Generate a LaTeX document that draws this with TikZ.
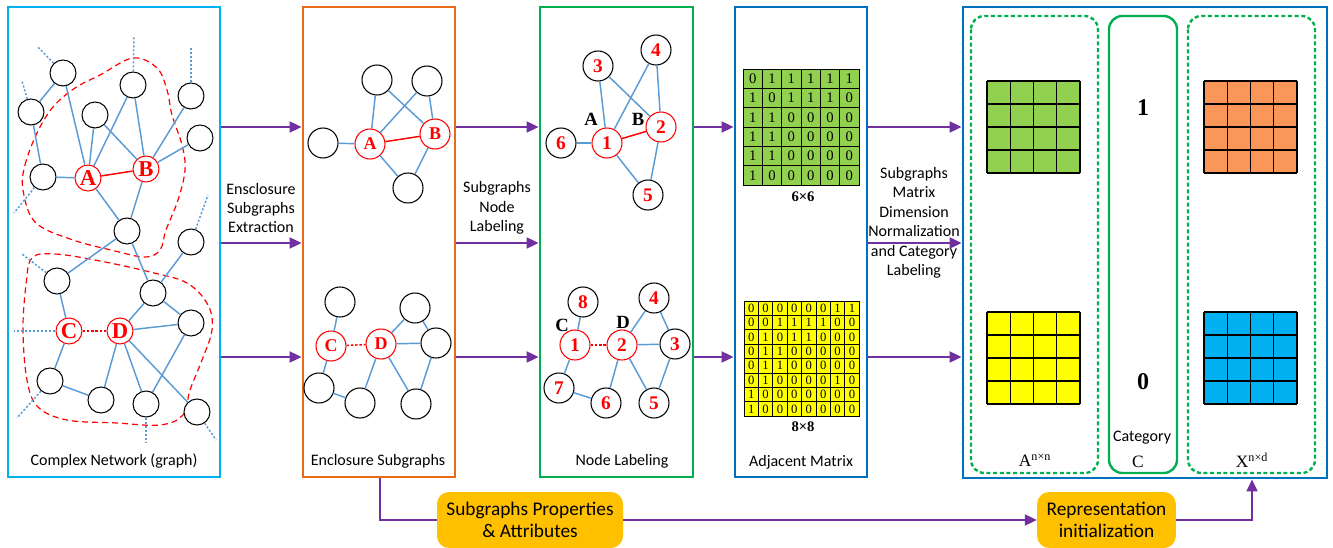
\documentclass[tikz,border=0pt]{standalone}
\usepackage{fontspec}
\setmainfont{Liberation Serif}
\setsansfont{Carlito}
\usetikzlibrary{arrows.meta,fit}

\definecolor{netcyan}{RGB}{0,176,240}
\definecolor{suborange}{RGB}{232,106,20}
\definecolor{labgreen}{RGB}{0,176,80}
\definecolor{matblue}{RGB}{0,112,192}
\definecolor{linkblue}{RGB}{91,155,213}
\definecolor{flowpurple}{RGB}{112,48,160}
\definecolor{cellgreen}{RGB}{146,208,80}
\definecolor{cellyellow}{RGB}{255,255,0}
\definecolor{cellorange}{RGB}{250,150,88}
\definecolor{cellblue}{RGB}{0,176,240}
\definecolor{boxgold}{RGB}{255,192,0}

\tikzstyle{panel} = [draw, line width=2pt, inner sep=0pt]
\tikzstyle{vertex} = [circle,
                      draw=black,
                      line width=0.8pt,
                      fill=white,
                      inner sep=0pt,
                      text=red]
\tikzstyle{small} = [vertex, minimum size=19.5pt,
                     font=\bfseries\fontsize{17}{17}\selectfont]
\tikzstyle{big} = [vertex, minimum size=22.5pt,
                   font=\bfseries\fontsize{14.5}{14.5}\selectfont]
\tikzstyle{seed} = [draw=red]
\tikzstyle{link} = [draw=linkblue, line width=1.1pt]
\tikzstyle{target} = [draw=red, line width=1.1pt]
\tikzstyle{missing} = [target, dash pattern=on 2pt off 1.2pt]
\tikzstyle{stub} = [draw=linkblue, line width=1.1pt, dash pattern=on 1.6pt off 1.4pt]
\tikzstyle{hull} = [draw=red, line width=0.9pt, dash pattern=on 4.5pt off 3pt]
\tikzstyle{flow} = [draw=flowpurple, line width=2pt,
                    -{Triangle[length=9pt,width=8pt]}]
\tikzstyle{caption} = [font=\sffamily\fontsize{12}{14.6}\selectfont, align=center]
\tikzstyle{cell} = [draw=black, line width=0.7pt, inner sep=0pt]
\tikzstyle{sheet} = [draw=labgreen, line width=1.8pt, rounded corners=10pt]
\tikzstyle{note} = [fill=boxgold, rounded corners=9pt, align=center,
                    minimum height=42pt,
                    font=\sffamily\fontsize{14.5}{17}\selectfont]

\begin{document}
\begin{tikzpicture}[x=0.75pt, y=-0.75pt]
  \useasboundingbox (0,0) rectangle (1333,548);

  % stages
  \node[panel, draw=netcyan, fit={(8,7) (220,477)}] (net) {};
  \node[panel, draw=suborange, fit={(303,7) (455,477)}] (sub) {};
  \node[panel, draw=labgreen, fit={(540,7) (693,477)}] (lab) {};
  \node[panel, draw=matblue, fit={(735,7) (867,477)}] (adj) {};
  \node[panel, draw=matblue, fit={(963,7) (1327,478)}] (group) {};

  \node[caption] (netcap) at (114,461) {Complex Network (graph)};
  \node[caption] (subcap) at (378,461) {Enclosure Subgraphs};
  \node[caption] (labcap) at (622,461) {Node Labeling};
  \node[caption] (adjcap) at (801,462) {Adjacent Matrix};

  % ---- complex network ----
  \draw[hull] plot[smooth cycle, tension=0.6] coordinates {
    (23,190) (25,165) (37,133) (53,107) (75,88) (100,75) (133,58) (157,68)
    (167,90) (172,115) (182,145) (185,170) (178,200) (166,230) (160,250)
    (145,257) (115,251) (70,239) (35,222)};
  \draw[hull] plot[smooth cycle, tension=0.6] coordinates {
    (32,258) (55,254) (100,261) (150,272) (187,283) (208,305) (212,330)
    (202,360) (190,390) (183,415) (160,425) (117,423) (67,420) (38,407)
    (27,380) (23,330) (26,285)};

  \node[small] (g1) at (63,73) {};
  \node[small] (g2) at (31,112) {};
  \node[small] (g3) at (133,85) {};
  \node[small] (g4) at (191,96) {};
  \node[small] (g5) at (95,115) {};
  \node[small] (g6) at (200,138) {};
  \node[small] (g7) at (43,177) {};
  \node[small, seed] (gA) at (88,178) {A};
  \node[small, seed] (gB) at (146,169) {B};
  \node[small] (g8) at (127,231) {};
  \node[small] (g9) at (191,242) {};
  \node[small] (g10) at (57,281) {};
  \node[small] (g11) at (153,293) {};
  \node[small, seed] (gC) at (69,331) {C};
  \node[small, seed] (gD) at (120,331) {D};
  \node[small] (g12) at (191,323) {};
  \node[small] (g13) at (50,381) {};
  \node[small] (g14) at (101,400) {};
  \node[small] (g15) at (146,404) {};
  \node[small] (g16) at (197,412) {};

  \path[link]
    (g1) edge (g2) (g1) edge (gA) (g2) edge (g7) (g7) edge (gA)
    (g5) edge (gA) (g3) edge (gA) (g3) edge (gB) (g5) edge (gB)
    (g4) edge (gB) (g6) edge (gB) (gA) edge (g8) (gB) edge (g8)
    (g8) edge (g10) (g8) edge (g11) (g9) edge (g11) (g10) edge (gC)
    (gC) edge (g13) (g13) edge (g14) (gD) edge (g11) (gD) edge (g12)
    (g11) edge (g12) (gD) edge (g14) (gD) edge (g15) (g12) edge (g15)
    (gD) edge (g16);
  \draw[target] (gA) -- (gB);
  \draw[missing] (gC) -- (gD);

  % edges leaving the drawn part of the network
  \foreach \v/\x/\y in {g1/37/46, g2/22/81, g3/134/36, g4/191/47, g7/14/213,
                        g9/208/195, g10/22/254, gC/14/331, g13/17/418,
                        g15/146/443, g16/216/440}{
    \coordinate (\v-out) at (\x,\y);
    \draw[stub] (\v) -- (\v-out);
  }

  % ---- enclosure subgraphs ----
  \node[big] (e1) at (377,80) {};
  \node[big] (e2) at (427,81) {};
  \node[big] (e3) at (323,143) {};
  \node[big, seed, font=\bfseries\fontsize{13.5}{13.5}\selectfont] (eA) at (370,144) {A};
  \node[big, seed, font=\bfseries\fontsize{13.5}{13.5}\selectfont] (eB) at (435,134) {B};
  \node[big] (e4) at (408,188) {};
  \path[link]
    (e3) edge (eA) (e1) edge (eA) (e1) edge (eB) (e2) edge (eA)
    (e2) edge (eB) (eA) edge (e4) (eB) edge (e4);
  \draw[target] (eA) -- (eB);

  \node[big] (f1) at (340,302) {};
  \node[big] (f2) at (415,308) {};
  \node[big, seed, font=\bfseries\fontsize{13.5}{13.5}\selectfont] (fC) at (331,346) {C};
  \node[big, seed, font=\bfseries\fontsize{13.5}{13.5}\selectfont] (fD) at (381,344) {D};
  \node[big] (f3) at (436,343) {};
  \node[big] (f4) at (319,388) {};
  \node[big] (f5) at (360,403) {};
  \node[big] (f6) at (416,404) {};
  \path[link]
    (f1) edge (fC) (fC) edge (f4) (f4) edge (f5) (f5) edge (fD)
    (fD) edge (f2) (fD) edge (f3) (f2) edge (f3) (fD) edge (f6)
    (f3) edge (f6);
  \draw[missing] (fC) -- (fD);

  % ---- node labeling ----
  \node[big] (t3) at (598,66) {3};
  \node[big] (t4) at (656,50) {4};
  \node[big] (t6) at (561,143) {6};
  \node[big, seed] (t1) at (607,143) {1};
  \node[big, seed] (t2) at (661,127) {2};
  \node[big] (t5) at (648,195) {5};
  \node[font=\bfseries\fontsize{14}{14}\selectfont] (tagA) at (591,119) {A};
  \node[font=\bfseries\fontsize{14}{14}\selectfont] (tagB) at (638,119) {B};
  \path[link]
    (t6) edge (t1) (t3) edge (t1) (t3) edge (t2) (t4) edge (t1)
    (t4) edge (t2) (t1) edge (t5) (t2) edge (t5);
  \draw[target] (t1) -- (t2);

  \node[big] (b8) at (583,302) {8};
  \node[big] (b4) at (654,298) {4};
  \node[big, seed] (b1) at (575,345) {1};
  \node[big, seed] (b2) at (622,345) {2};
  \node[big] (b3) at (675,344) {3};
  \node[big] (b7) at (559,388) {7};
  \node[big] (b6) at (606,403) {6};
  \node[big] (b5) at (654,403) {5};
  \node[font=\bfseries\fontsize{14}{14}\selectfont] (tagC) at (562,325) {C};
  \node[font=\bfseries\fontsize{14}{14}\selectfont] (tagD) at (623,322) {D};
  \path[link]
    (b8) edge (b1) (b1) edge (b7) (b7) edge (b6) (b6) edge (b2)
    (b2) edge (b4) (b2) edge (b3) (b4) edge (b3) (b2) edge (b5)
    (b3) edge (b5);
  \draw[missing] (b1) -- (b2);

  % ---- adjacent matrices ----
  \foreach \row [count=\i] in {{0,1,1,1,1,1},{1,0,1,1,1,0},{1,1,0,0,0,0},
                               {1,1,0,0,0,0},{1,1,0,0,0,0},{1,0,0,0,0,0}}{
    \foreach \v [count=\j] in \row {
      \node[cell, fill=cellgreen, minimum size=14.5pt,
            font=\fontsize{11}{11}\selectfont]
        (a\i\j) at ({743+(\j-0.5)*19.33},{69+(\i-0.5)*19.33}) {\v};
    }
  }
  \node[font=\bfseries\fontsize{11}{11}\selectfont] (adim) at (803,197) {6×6};

  \foreach \row [count=\i] in {{0,0,0,0,0,0,1,1},{0,0,1,1,1,1,0,0},
                               {0,1,0,1,1,0,0,0},{0,1,1,0,0,0,0,0},
                               {0,1,1,0,0,0,0,0},{0,1,0,0,0,0,1,0},
                               {1,0,0,0,0,0,0,0},{1,0,0,0,0,0,0,0}}{
    \foreach \v [count=\j] in \row {
      \node[cell, fill=cellyellow, minimum size=10.8pt,
            font=\fontsize{9.5}{9.5}\selectfont]
        (b\i\j) at ({744+(\j-0.5)*14.4},{301+(\i-0.5)*14.4}) {\v};
    }
  }
  \node[font=\bfseries\fontsize{11}{11}\selectfont] (bdim) at (803,427) {8×8};

  % ---- normalized representation ----
  \draw[sheet, dash pattern=on 3pt off 2pt] (971,16) rectangle (1098,473);
  \draw[sheet] (1109,16) rectangle (1177,473);
  \draw[sheet, dash pattern=on 3pt off 2pt] (1188,16) rectangle (1315,473);

  \foreach \gx/\gy/\gc in {987/81/cellgreen, 987/312/cellyellow,
                           1204/81/cellorange, 1204/312/cellblue}{
    \fill[\gc] (\gx,\gy) rectangle +(93,92);
    \foreach \k in {0,...,4}{
      \draw[line width=0.8pt] ({\gx+\k*23.25},\gy) -- +(0,92);
      \draw[line width=0.8pt] (\gx,{\gy+\k*23}) -- +(93,0);
    }
  }

  \node[font=\bfseries\fontsize{18}{18}\selectfont] (one) at (1143,108) {1};
  \node[font=\bfseries\fontsize{18}{18}\selectfont] (zero) at (1143,382) {0};
  \node[caption] (catcap) at (1142,438) {Category};
  \node[font=\fontsize{13}{13}\selectfont] (catsym) at (1138,462) {C};
  \node[font=\fontsize{13}{13}\selectfont] (acap) at (1035,460) {A\textsuperscript{n×n}};
  \node[font=\fontsize{13}{13}\selectfont] (xcap) at (1252,460) {X\textsuperscript{n×d}};

  % ---- flow between stages ----
  \coordinate (r1) at (0,127);
  \coordinate (r2) at (0,243);
  \coordinate (r3) at (0,357);
  \foreach \r in {r1,r2,r3}{
    \draw[flow] (net.east |- \r) -- (sub.west |- \r);
    \draw[flow] (sub.east |- \r) -- (lab.west |- \r);
    \draw[flow] (adj.east |- \r) -- (group.west |- \r);
  }
  \draw[flow] (lab.east |- r1) -- (adj.west |- r1);
  \draw[flow] (lab.east |- r3) -- (adj.west |- r3);

  \node[caption] (extcap) at (261,208) {Ensclosure\\Subgraphs\\Extraction};
  \node[caption] (labelcap) at (497,208) {Subgraphs\\Node\\Labeling};
  \node[caption] (normcap) at (914,223)
    {Subgraphs\\Matrix\\Dimension\\Normalization\\and Category\\Labeling};

  % ---- properties branch ----
  \node[note, minimum width=139.5pt] (props) at (530,520)
    {Subgraphs Properties\\\& Attributes};
  \node[note, minimum width=104pt] (repr) at (1106.5,520)
    {Representation\\initialization};
  \coordinate (k1) at (380,520);
  \coordinate (k2) at (1252,520);
  \draw[draw=flowpurple, line width=2pt] (sub.south -| k1) -- (k1) -- (props.west);
  \draw[flow] (props.east) -- (repr.west);
  \draw[flow] (repr.east) -- (k2) -- (group.south -| k2);
\end{tikzpicture}
\end{document}
